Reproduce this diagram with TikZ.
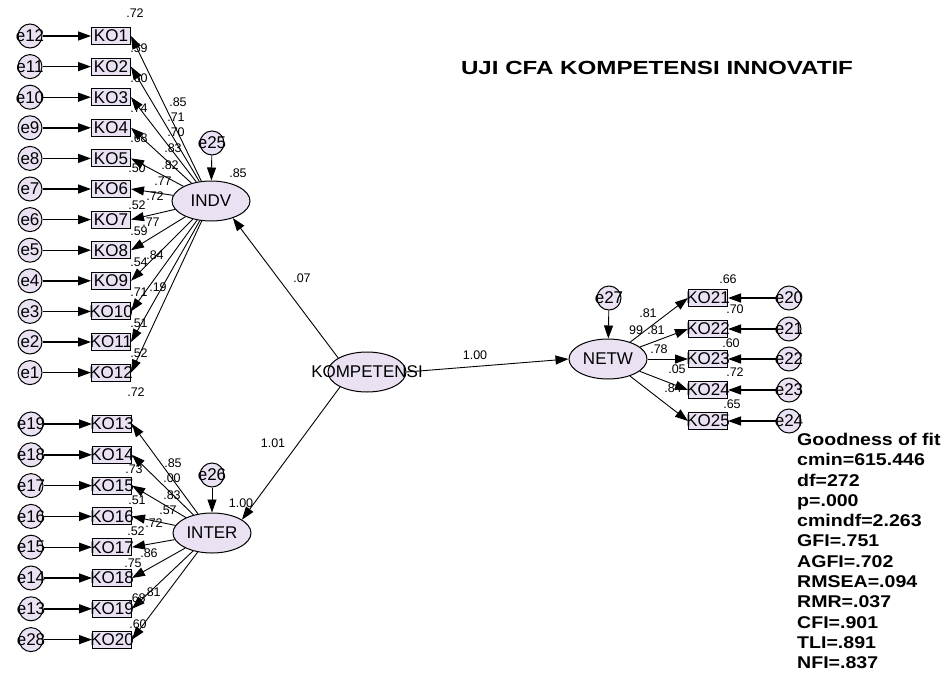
\documentclass[tikz,border=0pt]{standalone}
\usepackage{fontspec}
\setmainfont{Liberation Sans}
\usetikzlibrary{shapes.geometric,arrows.meta}
\definecolor{amos}{RGB}{234,226,243}

\begin{document}
\begin{tikzpicture}[x=1pt, y=-1pt,
  narrow/.style = {execute at begin node={\hbox to 0pt\bgroup\hss}, execute at end node={\hss\egroup}},
  obs/.style = {draw, fill=amos, line width=1pt, minimum width=39pt, minimum height=17pt, inner sep=0pt, narrow, font=\fontsize{17}{17}\selectfont},
  err/.style = {draw, circle, fill=amos, line width=1pt, minimum size=24pt, inner sep=0pt, narrow, font=\fontsize{17}{17}\selectfont},
  lat/.style = {draw, ellipse, fill=amos, line width=1pt, minimum width=78pt, minimum height=40pt, inner sep=0pt, narrow, font=\fontsize{17}{17}\selectfont},
  num/.style = {inner sep=0pt, font=\fontsize{12.5}{12.5}\selectfont},
  arr/.style = {-{Triangle[length=13pt,width=9pt]}, line width=0.9pt},
  earr/.style = {arr, line width=1.4pt}]
  \useasboundingbox (0,0) rectangle (951,675);

  \node[font=\bfseries\fontsize{19}{19}\selectfont] (title) at (657,68) {\scalebox{1.27}[1]{UJI CFA KOMPETENSI INNOVATIF}};

  \node[lat] (indv) at (211,201) {INDV};
  \node[lat] (inter) at (212,533) {INTER};
  \node[lat] (komp) at (367,372) {KOMPETENSI};
  \node[lat] (netw) at (608,359) {NETW};
  \node[err] (e25) at (212,143) {e25};
  \node[err] (e26) at (212,475) {e26};
  \node[err] (e27) at (609,298) {e27};

  \node[obs] (ko1) at (111,36) {KO1};
  \node[obs] (ko2) at (111,66.6) {KO2};
  \node[obs] (ko3) at (111,97.2) {KO3};
  \node[obs] (ko4) at (111,127.8) {KO4};
  \node[obs] (ko5) at (111,158.4) {KO5};
  \node[obs] (ko6) at (111,189) {KO6};
  \node[obs] (ko7) at (111,219.6) {KO7};
  \node[obs] (ko8) at (111,250.2) {KO8};
  \node[obs] (ko9) at (111,280.8) {KO9};
  \node[obs] (ko10) at (111,311.4) {KO10};
  \node[obs] (ko11) at (111,342) {KO11};
  \node[obs] (ko12) at (111,372.6) {KO12};

  \node[err] (e12) at (30,36) {e12};
  \node[err] (e11) at (30,66.6) {e11};
  \node[err] (e10) at (30,97.2) {e10};
  \node[err] (e9) at (30,127.8) {e9};
  \node[err] (e8) at (30,158.4) {e8};
  \node[err] (e7) at (30,189) {e7};
  \node[err] (e6) at (30,219.6) {e6};
  \node[err] (e5) at (30,250.2) {e5};
  \node[err] (e4) at (30,280.8) {e4};
  \node[err] (e3) at (30,311.4) {e3};
  \node[err] (e2) at (30,342) {e2};
  \node[err] (e1) at (30,372.6) {e1};

  \node[obs] (ko13) at (112,424) {KO13};
  \node[obs] (ko14) at (112,454.8) {KO14};
  \node[obs] (ko15) at (112,485.6) {KO15};
  \node[obs] (ko16) at (112,516.4) {KO16};
  \node[obs] (ko17) at (112,547.2) {KO17};
  \node[obs] (ko18) at (112,578) {KO18};
  \node[obs] (ko19) at (112,608.8) {KO19};
  \node[obs] (ko20) at (112,639.6) {KO20};

  \node[err] (e19) at (31,424) {e19};
  \node[err] (e18) at (31,454.8) {e18};
  \node[err] (e17) at (31,485.6) {e17};
  \node[err] (e16) at (31,516.4) {e16};
  \node[err] (e15) at (31,547.2) {e15};
  \node[err] (e14) at (31,578) {e14};
  \node[err] (e13) at (31,608.8) {e13};
  \node[err] (e28) at (31,639.6) {e28};

  \node[obs] (ko21) at (708,298) {KO21};
  \node[obs] (ko22) at (708,329) {KO22};
  \node[obs] (ko23) at (708,359) {KO23};
  \node[obs] (ko24) at (708,390) {KO24};
  \node[obs] (ko25) at (708,421) {KO25};

  \node[err] (e20) at (789,298) {e20};
  \node[err] (e21) at (789,329) {e21};
  \node[err] (e22) at (789,359) {e22};
  \node[err] (e23) at (789,390) {e23};
  \node[err] (e24) at (789,421) {e24};

  \draw[earr] (e12) -- (ko1);
  \draw[earr] (e11) -- (ko2);
  \draw[earr] (e10) -- (ko3);
  \draw[earr] (e9) -- (ko4);
  \draw[earr] (e8) -- (ko5);
  \draw[earr] (e7) -- (ko6);
  \draw[earr] (e6) -- (ko7);
  \draw[earr] (e5) -- (ko8);
  \draw[earr] (e4) -- (ko9);
  \draw[earr] (e3) -- (ko10);
  \draw[earr] (e2) -- (ko11);
  \draw[earr] (e1) -- (ko12);

  \draw[earr] (e19) -- (ko13);
  \draw[earr] (e18) -- (ko14);
  \draw[earr] (e17) -- (ko15);
  \draw[earr] (e16) -- (ko16);
  \draw[earr] (e15) -- (ko17);
  \draw[earr] (e14) -- (ko18);
  \draw[earr] (e13) -- (ko19);
  \draw[earr] (e28) -- (ko20);

  \draw[earr] (e20) -- (ko21);
  \draw[earr] (e21) -- (ko22);
  \draw[earr] (e22) -- (ko23);
  \draw[earr] (e23) -- (ko24);
  \draw[earr] (e24) -- (ko25);

  \draw[arr] (indv) -- (ko1.east);
  \draw[arr] (indv) -- (ko2.east);
  \draw[arr] (indv) -- (ko3.east);
  \draw[arr] (indv) -- (ko4.east);
  \draw[arr] (indv) -- (ko5.east);
  \draw[arr] (indv) -- (ko6.east);
  \draw[arr] (indv) -- (ko7.east);
  \draw[arr] (indv) -- (ko8.east);
  \draw[arr] (indv) -- (ko9.east);
  \draw[arr] (indv) -- (ko10.east);
  \draw[arr] (indv) -- (ko11.east);
  \draw[arr] (indv) -- (ko12.east);

  \draw[arr] (inter) -- (ko13.east);
  \draw[arr] (inter) -- (ko14.east);
  \draw[arr] (inter) -- (ko15.east);
  \draw[arr] (inter) -- (ko16.east);
  \draw[arr] (inter) -- (ko17.east);
  \draw[arr] (inter) -- (ko18.east);
  \draw[arr] (inter) -- (ko19.east);
  \draw[arr] (inter) -- (ko20.east);

  \draw[arr] (netw) -- (ko21.west);
  \draw[arr] (netw) -- (ko22.west);
  \draw[arr] (netw) -- (ko23.west);
  \draw[arr] (netw) -- (ko24.west);
  \draw[arr] (netw) -- (ko25.west);

  \draw[arr] (e25) -- (indv);
  \draw[arr] (e26) -- (inter);
  \draw[arr] (e27) -- (netw);
  \draw[arr] (komp.154) -- (indv.-38);
  \draw[arr] (komp.209) -- (inter.24);
  \draw[arr] (komp.east) -- (netw.west);

  \node[num] (w1) at (302,278) {.07};
  \node[num] (w2) at (273,443) {1.01};
  \node[num] (w3) at (475,355) {1.00};
  \node[num] (r25) at (238,173) {.85};
  \node[num] (r26) at (241,503) {1.00};

  \node[num] (r1) at (135,13) {.72};
  \node[num] (r2) at (139,48) {.59};
  \node[num] (r3) at (139,78) {.60};
  \node[num] (r4) at (139,108) {.74};
  \node[num] (r5) at (139,138) {.68};
  \node[num] (r6) at (137,168) {.50};
  \node[num] (r7) at (137,205) {.52};
  \node[num] (r8) at (139,231) {.59};
  \node[num] (r9) at (139,262) {.54};
  \node[num] (r10) at (139,292) {.71};
  \node[num] (r11) at (139,323) {.51};
  \node[num] (r12) at (139,353) {.52};
  \node[num] (l1) at (178,102) {.85};
  \node[num] (l2) at (176,117) {.71};
  \node[num] (l3) at (176,132) {.70};
  \node[num] (l4) at (173,148) {.83};
  \node[num] (l5) at (170,165) {.82};
  \node[num] (l6) at (163,181) {.77};
  \node[num] (l7) at (155,196) {.72};
  \node[num] (l8) at (151,222) {.77};
  \node[num] (l9) at (155,255) {.84};
  \node[num] (l10) at (158,287) {.19};

  \node[num] (r13) at (136,392) {.72};
  \node[num] (r14) at (134,469) {.73};
  \node[num] (r15) at (137,500) {.51};
  \node[num] (r16) at (136,531) {.52};
  \node[num] (r17) at (133,563) {.75};
  \node[num] (r18) at (137,598) {.68};
  \node[num] (r19) at (138,624) {.60};
  \node[num] (l13) at (173,463) {.85};
  \node[num] (l14) at (172,478) {.00};
  \node[num] (l15) at (172,495) {.83};
  \node[num] (l16) at (168,510) {.57};
  \node[num] (l17) at (154,523) {.72};
  \node[num] (l18) at (149,553) {.86};
  \node[num] (l19) at (152,592) {.81};

  \node[num] (r21) at (728,279) {.66};
  \node[num] (r22) at (735,309) {.70};
  \node[num] (r23) at (731,343) {.60};
  \node[num] (r24) at (735,372) {.72};
  \node[num] (r25b) at (732,404) {.65};
  \node[num] (l21) at (648,313) {.81};
  \node[num] (l22a) at (636,330) {99};
  \node[num] (l22) at (656,330) {.81};
  \node[num] (l23) at (659,349) {.78};
  \node[num] (l24) at (677,369) {.05};
  \node[num] (l25) at (673,388) {.84};

  \node[anchor=north west, inner sep=0pt, font=\bfseries\fontsize{17}{20.3}\selectfont] (fit) at (797,431)
    {\scalebox{1.15}[1]{\begin{tabular}{@{}l@{}}Goodness of fit\\cmin=615.446\\df=272\\p=.000\\cmindf=2.263\\GFI=.751\\AGFI=.702\\RMSEA=.094\\RMR=.037\\CFI=.901\\TLI=.891\\NFI=.837\end{tabular}}};

\end{tikzpicture}
\end{document}
